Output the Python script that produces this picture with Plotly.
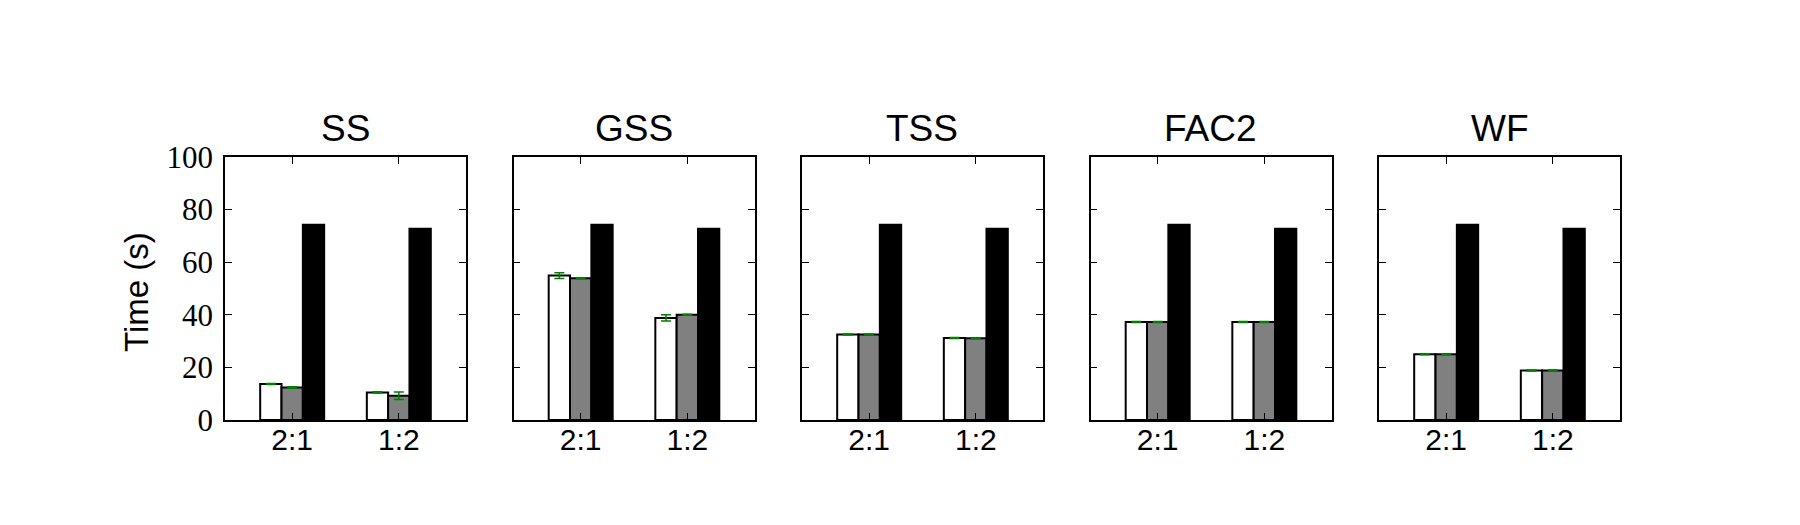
import plotly.graph_objects as go

schedulers = ["SS", "GSS", "TSS", "FAC2", "WF"]
ratios = ["2:1", "1:2"]
y_ticks = [0, 20, 40, 60, 80, 100]

white_means = [[13.7, 10.5], [54.9, 38.8], [32.5, 31.2], [37.3, 37.3], [25.0, 18.8]]
white_errs = [[0.2, 0.2], [1.1, 1.2], [0.2, 0.2], [0.2, 0.2], [0.2, 0.2]]
gray_means = [[12.4, 9.2], [53.9, 40.0], [32.5, 31.1], [37.3, 37.3], [25.0, 18.8]]
gray_errs = [[0.2, 1.45], [0.2, 0.2], [0.2, 0.2], [0.2, 0.2], [0.2, 0.2]]
black_means = [[74.2, 72.7], [74.2, 72.7], [74.2, 72.7], [74.2, 72.7], [74.2, 72.7]]

W, H = 1800, 525
left0, step, pw = 225, 288.5, 241
top_px, bot_px = 157, 420

fig = go.Figure()
annotations = []
ERR_COLOR = "#008000"

for i, name in enumerate(schedulers):
    sfx = "" if i == 0 else str(i + 1)
    xa, ya = "x" + sfx, "y" + sfx
    err_style = dict(type="data", color=ERR_COLOR, thickness=1.5, width=5, visible=True)
    fig.add_trace(go.Bar(x=ratios, y=white_means[i], xaxis=xa, yaxis=ya,
                         marker=dict(color="white", line=dict(color="black", width=2)),
                         error_y=dict(array=white_errs[i], **err_style),
                         showlegend=False, offsetgroup="w"))
    fig.add_trace(go.Bar(x=ratios, y=gray_means[i], xaxis=xa, yaxis=ya,
                         marker=dict(color="#808080", line=dict(color="black", width=2)),
                         error_y=dict(array=gray_errs[i], **err_style),
                         showlegend=False, offsetgroup="g"))
    fig.add_trace(go.Bar(x=ratios, y=black_means[i], xaxis=xa, yaxis=ya,
                         marker=dict(color="black", line=dict(color="black", width=2)),
                         showlegend=False, offsetgroup="b"))

    x0 = (left0 + step * i) / W
    x1 = (left0 + step * i + pw) / W
    y0 = (H - bot_px) / H
    y1 = (H - top_px) / H
    axis_common = dict(showline=True, linecolor="black", linewidth=1.5, mirror="ticks",
                       ticks="inside", ticklen=7, tickwidth=1, tickcolor="black",
                       showgrid=False, zeroline=False, automargin=False)
    fig.layout["xaxis" + sfx] = dict(domain=[x0, x1], anchor=ya, type="category",
                                     range=[-0.63, 1.63],
                                     tickfont=dict(family="Liberation Sans", size=30, color="black"),
                                     ticklabelstandoff=-8,
                                     **axis_common)
    fig.layout["yaxis" + sfx] = dict(domain=[y0, y1], anchor=xa, range=[0, 100],
                                     tickvals=y_ticks, showticklabels=(i == 0),
                                     tickfont=dict(family="Liberation Serif", size=31, color="black"),
                                     ticklabelstandoff=4,
                                     **axis_common)
    annotations.append(dict(text=name, x=(x0 + x1) / 2, y=(H - 128) / H, xref="paper", yref="paper",
                            xanchor="center", yanchor="middle", showarrow=False,
                            font=dict(family="Liberation Sans", size=37, color="black")))

annotations.append(dict(text="Time (s)", x=137 / W, y=(H - 292) / H, xref="paper", yref="paper",
                        xanchor="center", yanchor="middle", textangle=-90, showarrow=False,
                        font=dict(family="Liberation Sans", size=33, color="black")))

fig.update_layout(width=W, height=H, margin=dict(l=0, r=0, t=0, b=0),
                  paper_bgcolor="white", plot_bgcolor="white",
                  barmode="group", bargap=0.4, bargroupgap=0,
                  annotations=annotations)

fig.write_html("out.html")
